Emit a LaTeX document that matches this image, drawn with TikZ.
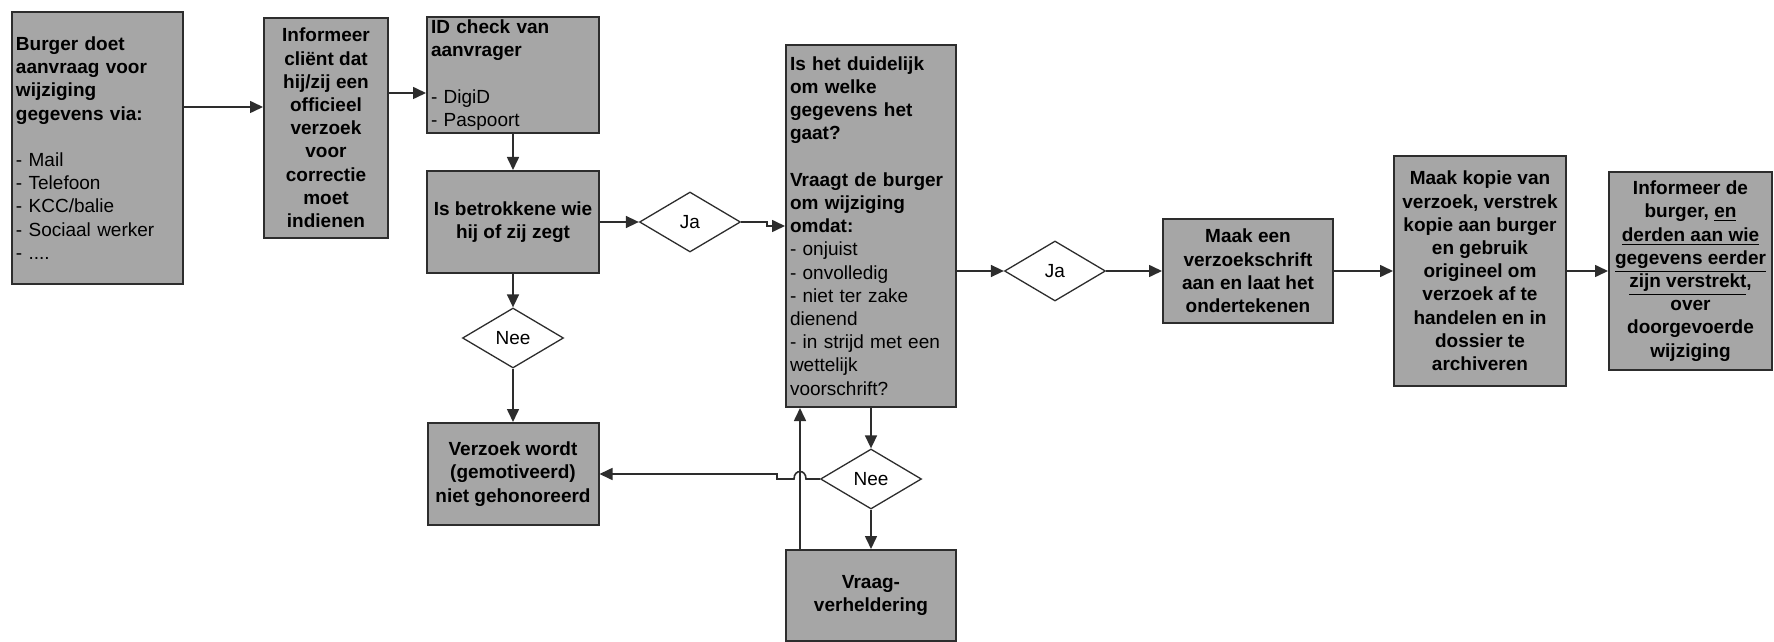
\documentclass[tikz,border=0pt]{standalone}
\usepackage{fontspec}
\setmainfont{Liberation Sans}
\usetikzlibrary{shapes.geometric,arrows.meta}
\definecolor{boxgray}{RGB}{166,166,166}
\definecolor{edgegray}{RGB}{45,45,45}

\begin{document}
\begin{tikzpicture}[x=0.5pt,y=-0.5pt,
  box/.style={draw=edgegray,line width=1pt,fill=boxgray,inner xsep=2pt,inner ysep=1pt,align=center,
    font=\fontsize{9.5}{11.6}\selectfont\bfseries},
  leftbox/.style={box,align=left},
  choice/.style={diamond,draw=edgegray,line width=0.65pt,fill=white,inner sep=0pt,
    minimum width=50.5pt,minimum height=30pt,font=\fontsize{9.5}{11.6}\selectfont},
  arr/.style={-{Triangle[length=6.5pt,width=6pt]},line width=0.8pt,draw=edgegray}]

\useasboundingbox (0,0) rectangle (1774,642);

%%%%%% first row

%aanvraag
\node[leftbox,text width=81.5pt,minimum height=136pt] (aanvraag) at (97.5,148)
  {Burger doet\\ aanvraag voor\\ wijziging\\ gegevens via:\\[11.6pt]
   \textmd{- Mail}\\ \textmd{- Telefoon}\\ \textmd{- KCC/balie}\\ \textmd{- Sociaal werker}\\ \textmd{- ....}};

%informeer client
\node[box,minimum width=62pt,minimum height=110pt] (informeer) at (326,128)
  {Informeer\\ cliënt dat\\ hij/zij een\\ officieel\\ verzoek\\ voor\\ correctie\\ moet\\ indienen};

%id check
\node[leftbox,text width=82pt,minimum height=58pt] (idcheck) at (513,75)
  {ID check van\\ aanvrager\\[11.6pt] \textmd{- DigiD}\\ \textmd{- Paspoort}};

%betrokkene
\node[box,minimum width=86pt,minimum height=51pt] (betrokkene) at (513,222)
  {Is betrokkene wie\\ hij of zij zegt};

%ja
\node[choice] (ja1) at (690,222) {Ja};

%duidelijk
\node[leftbox,text width=81pt,minimum height=181pt] (duidelijk) at (871,226)
  {Is het duidelijk\\ om welke\\ gegevens het\\ gaat?\\[11.6pt]
   Vraagt de burger\\ om wijziging\\ omdat:\\ \textmd{- onjuist}\\ \textmd{- onvolledig}\\
   \textmd{- niet ter zake}\\ \textmd{dienend}\\ \textmd{- in strijd met een}\\ \textmd{wettelijk}\\ \textmd{voorschrift?}};

%ja
\node[choice] (ja2) at (1055,271) {Ja};

%verzoekschrift
\node[box,minimum width=85pt,minimum height=51.5pt] (verzoekschrift) at (1248,271)
  {Maak een\\ verzoekschrift\\ aan en laat het\\ ondertekenen};

%kopie
\node[box,minimum width=86pt,minimum height=114.5pt] (kopie) at (1480,271)
  {Maak kopie van\\ verzoek, verstrek\\ kopie aan burger\\ en gebruik\\ origineel om\\ verzoek af te\\ handelen en in\\ dossier te\\ archiveren};

%informeer burger
\node[box,minimum width=81.5pt,minimum height=98.5pt] (informeerburger) at (1690.5,271)
  {Informeer de\\ burger, \underline{en}\\ \underline{derden aan wie}\\ \underline{gegevens eerder}\\ \underline{zijn verstrekt},\\ over\\ doorgevoerde\\ wijziging};

%%%%%% lower part

%nee
\node[choice] (nee1) at (513,338) {Nee};

%niet gehonoreerd
\node[box,minimum width=85.5pt,minimum height=51pt] (afgewezen) at (513,474)
  {Verzoek wordt\\ (gemotiveerd)\\ niet gehonoreerd};

%nee
\node[choice] (nee2) at (871,479) {Nee};

%vraagverheldering
\node[box,minimum width=85pt,minimum height=45.5pt] (verheldering) at (871,595.5)
  {Vraag-\\ verheldering};

%%%%%% arrows

\draw[arr] (aanvraag.east |- 0,107) -- (informeer.west |- 0,107);
\draw[arr] (informeer.east |- 0,93) -- (idcheck.west |- 0,93);
\draw[arr] (idcheck.south) -- (betrokkene.north);
\draw[arr] (betrokkene.east) -- (ja1.west);
\draw[arr] (ja1.east) -- ++(26,0) |- (duidelijk.west |- 0,226);
\draw[arr] (duidelijk.east |- ja2.west) -- (ja2.west);
\draw[arr] (ja2.east) -- (verzoekschrift.west);
\draw[arr] (verzoekschrift.east) -- (kopie.west);
\draw[arr] (kopie.east) -- (informeerburger.west);

\draw[arr] (betrokkene.south) -- (nee1.north);
\draw[arr] (nee1.south) -- (afgewezen.north);
\draw[arr] (duidelijk.south) -- (nee2.north);
\draw[arr] (nee2.south) -- (verheldering.north);
\draw[arr] (verheldering.north -| 800,0) -- (duidelijk.south -| 800,0);

%line jump over the return arrow
\draw[arr] (nee2.west) -- (806,479) .. controls (806,469) and (794,469) .. (794,479)
  -- (777,479) |- (afgewezen.east);

\end{tikzpicture}
\end{document}
